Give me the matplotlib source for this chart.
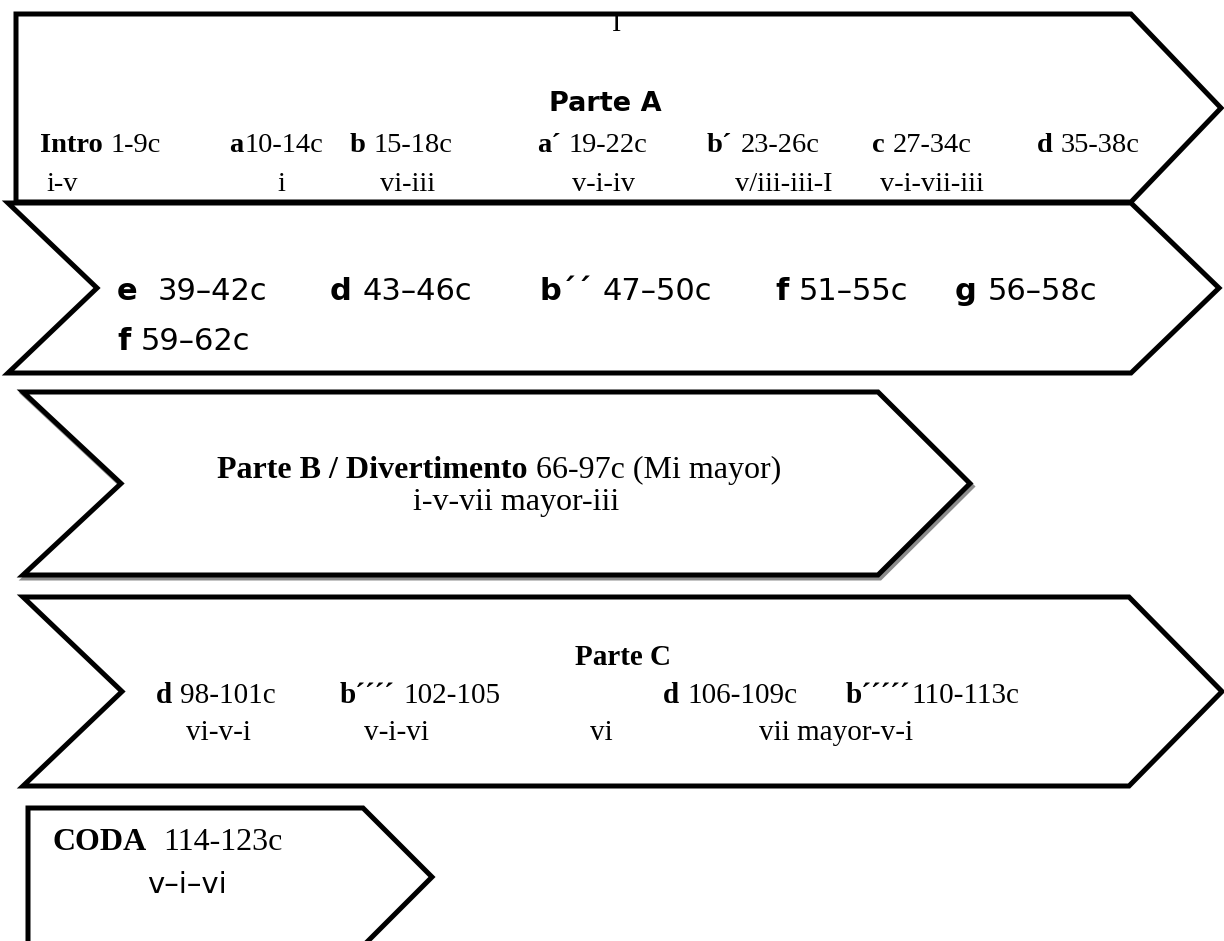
import matplotlib
matplotlib.use("Agg")
import matplotlib.pyplot as plt
from matplotlib.patches import Polygon

# canvas in pixels, y grows downwards
W, H = 1224, 941

SERIF = "Liberation Serif"
SANS = "DejaVu Sans"

# ---- content -------------------------------------------------------------
part_a_title = "Parte A"
part_a_heads = ["Intro", "a", "b", "a´", "b´", "c", "d"]
part_a_seps = [1, 0, 1, 1, 1, 1, 1]
part_a_bars = ["1-9c", "10-14c", "15-18c", "19-22c", "23-26c", "27-34c", "35-38c"]
part_a_chords = ["i-v", "i", "vi-iii", "v-i-iv", "v/iii-iii-I", "v-i-vii-iii"]

part_a2_heads = ["e", "d", "b´´", "f", "g", "f"]
part_a2_seps = [2, 1, 1, 1, 1, 1]
part_a2_bars = ["39–42c", "43–46c", "47–50c", "51–55c", "56–58c", "59–62c"]

part_b_head = "Parte B / Divertimento"
part_b_bars = "66-97c (Mi mayor)"
part_b_chords = "i-v-vii mayor-iii"

part_c_title = "Parte C"
part_c_heads = ["d", "b´´´´", "d", "b´´´´´"]
part_c_seps = [1, 1, 1, 0]
part_c_bars = ["98-101c", "102-105", "106-109c", "110-113c"]
part_c_chords = ["vi-v-i", "v-i-vi", "vi", "vii mayor-v-i"]

coda_head = "CODA"
coda_bars = "114-123c"
coda_chords = "v–i–vi"

# ---- layout --------------------------------------------------------------
# arrows: left, top, bottom, body end, tip x, notch depth
arrows = [
    (16, 14, 202, 1131, 1221, 0),
    (8, 203, 373, 1131, 1219, 89),
    (23, 392, 575, 878, 970, 98),
    (23, 597, 786, 1129, 1222, 99),
    (28, 808, 946, 363, 432, 0),
]

part_a_x = [40, 229, 350, 537, 707, 872, 1037]
part_a_chord_x = [46, 277, 380, 572, 735, 880]
part_a2_x = [117, 330, 540, 775, 955, 117]
part_a2_y = [300, 300, 300, 300, 300, 350]
part_c_x = [156, 340, 663, 846]
part_c_chord_x = [186, 364, 590, 759]


def arrow(ax, left, top, bottom, body, tip, notch, shadow=False):
    mid = (top + bottom) / 2
    pts = [(left, top), (body, top), (tip, mid), (body, bottom), (left, bottom)]
    if notch:
        pts.append((left + notch, mid))
    if shadow:
        ax.add_patch(Polygon([(x + 2, y + 3) for x, y in pts], closed=True,
                             fc="none", ec="#8c8c8c", lw=3.6, joinstyle="miter"))
    ax.add_patch(Polygon(pts, closed=True, fc="white", ec="black", lw=3.6,
                         joinstyle="miter"))


def width(ax, r, s, **kw):
    t = ax.text(0, 0, s, **kw)
    w = t.get_window_extent(renderer=r).width
    t.remove()
    return w


def rich(ax, r, x, y, head, sep, tail, size, family=SERIF, head_weight="bold"):
    """bold head followed by regular tail on one baseline"""
    t = ax.text(x, y, head, fontsize=size, family=family, weight=head_weight,
                va="baseline", ha="left")
    w = t.get_window_extent(renderer=r).width
    sp = (width(ax, r, "x x", fontsize=size, family=family)
          - width(ax, r, "xx", fontsize=size, family=family))
    ax.text(x + w + sep * sp + 1, y, tail, fontsize=size, family=family,
            va="baseline", ha="left")


fig = plt.figure(figsize=(W / 100, H / 100), dpi=100)
ax = fig.add_axes([0, 0, 1, 1])
ax.set_xlim(0, W)
ax.set_ylim(H, 0)
ax.axis("off")
r = fig.canvas.get_renderer()

for i, a in enumerate(arrows):
    arrow(ax, *a, shadow=(i == 2))

# Parte A
ax.text(617, 31, "I", fontsize=20, family=SERIF, va="baseline", ha="center",
        zorder=3)
ax.text(605, 111, part_a_title, fontsize=19.5, family=SANS, weight="bold",
        va="baseline", ha="center")
for x, h, s, b in zip(part_a_x, part_a_heads, part_a_seps, part_a_bars):
    rich(ax, r, x, 152, h, s, b, 20.5)
for x, c in zip(part_a_chord_x, part_a_chords):
    ax.text(x, 191, c, fontsize=20.5, family=SERIF, va="baseline")

# Parte A (continued)
for x, y, h, s, b in zip(part_a2_x, part_a2_y, part_a2_heads, part_a2_seps,
                         part_a2_bars):
    rich(ax, r, x, y, h, s, b, 22, family=SANS)

# Parte B
rich(ax, r, 217, 478, part_b_head, 1, part_b_bars, 23)
ax.text(413, 510, part_b_chords, fontsize=23, family=SERIF, va="baseline")

# Parte C
ax.text(575, 665, part_c_title, fontsize=21, family=SERIF, weight="bold",
        va="baseline")
for x, h, s, b in zip(part_c_x, part_c_heads, part_c_seps, part_c_bars):
    rich(ax, r, x, 703, h, s, b, 21)
for x, c in zip(part_c_chord_x, part_c_chords):
    ax.text(x, 740, c, fontsize=21, family=SERIF, va="baseline")

# Coda
rich(ax, r, 52, 850, coda_head, 2, coda_bars, 23)
ax.text(147, 893, coda_chords, fontsize=21, family=SANS, va="baseline")

fig.savefig("out.png", dpi=100)
